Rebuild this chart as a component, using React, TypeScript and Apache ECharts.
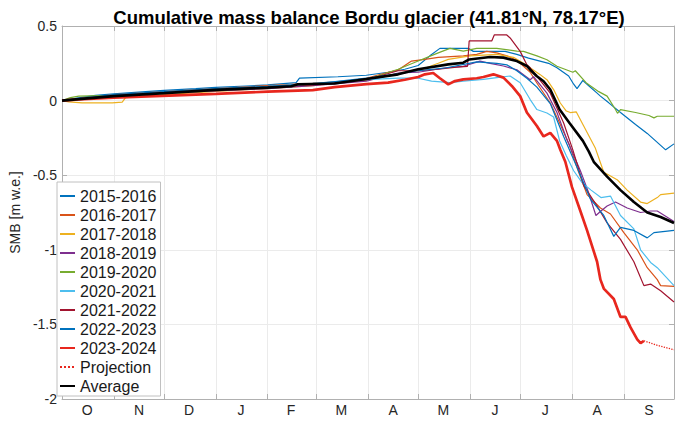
import React, { useEffect, useRef } from "react";
import * as echarts from "echarts";

// ---------- data ----------
const titleText = "Cumulative mass balance Bordu glacier (41.81°N, 78.17°E)";
const yAxisName = "SMB [m w.e.]";
const monthLetters = ["O", "N", "D", "J", "F", "M", "A", "M", "J", "J", "A", "S"];
const monthDays = [31, 30, 31, 31, 29, 31, 30, 31, 30, 31, 31, 30];
const yMin = -2;
const yMax = 0.5;
const yStep = 0.5;

const seasonNames = [
  "2015-2016",
  "2016-2017",
  "2017-2018",
  "2018-2019",
  "2019-2020",
  "2020-2021",
  "2021-2022",
  "2022-2023",
  "2023-2024",
];
const seasonColors = [
  "#0072BD",
  "#D95319",
  "#EDB120",
  "#7E2F8E",
  "#77AC30",
  "#4DBEEE",
  "#A2142F",
  "#0072BD",
  "#E8271E",
];

// [day of hydrological year, cumulative SMB (m w.e.)]
const s2015_16 = [[0,0],[8,0.015],[20,0.035],[31,0.045],[50,0.06],[61,0.068],[80,0.08],[92,0.088],[110,0.098],[123,0.105],[140,0.12],[142,0.15],[165,0.16],[182,0.17],[195,0.19],[205,0.21],[213,0.235],[220,0.3],[226,0.35],[236,0.35],[243,0.35],[246,0.33],[256,0.33],[265,0.33],[272,0.31],[279,0.285],[291,0.25],[296,0.22],[303,0.165],[306,0.11],[308,0.08],[311.5,0.135],[315,0.1],[319.5,0.055],[322,0.03],[327,-0.015],[334,-0.08],[343,-0.16],[350,-0.22],[355,-0.27],[361,-0.33],[366,-0.29]];
const s2016_17 = [[0,0],[10,0.012],[31,0.04],[61,0.06],[92,0.08],[123,0.1],[150,0.115],[170,0.13],[182,0.15],[195,0.19],[201,0.205],[209,0.265],[217,0.276],[225,0.29],[240,0.3],[248,0.31],[254,0.33],[260,0.32],[266,0.3],[272,0.27],[280,0.19],[284,0.118],[292,-0.016],[298,-0.16],[303.5,-0.3],[309,-0.48],[314,-0.63],[322,-0.72],[328,-0.76],[336,-0.885],[344,-1.0],[350,-1.12],[356,-1.2],[358,-1.24],[366,-1.245]];
const s2017_18 = [[0,0],[4,-0.008],[12,-0.015],[30,-0.015],[36,-0.01],[38,0.02],[61,0.04],[92,0.062],[123,0.08],[150,0.1],[182,0.135],[201,0.18],[213,0.2],[225,0.25],[231,0.276],[244,0.3],[260,0.31],[270,0.29],[276,0.25],[286,0.174],[290,0.14],[294,0.074],[298,-0.016],[301.6,-0.07],[304,-0.08],[307.5,-0.075],[312,-0.17],[319,-0.32],[324,-0.48],[332,-0.53],[338,-0.6],[346,-0.68],[350,-0.69],[356,-0.65],[358,-0.63],[366,-0.62]];
const s2018_19 = [[0,0],[10,0.01],[31,0.03],[61,0.05],[92,0.065],[123,0.08],[150,0.1],[182,0.13],[201,0.185],[213,0.19],[230,0.22],[240,0.23],[250,0.265],[256,0.25],[264,0.232],[272,0.207],[280,0.14],[282,0.16],[290,0.05],[296,-0.08],[301.6,-0.25],[305,-0.34],[310,-0.47],[314.4,-0.6],[319.3,-0.77],[322.3,-0.74],[326,-0.707],[331,-0.68],[338,-0.72],[346,-0.75],[352,-0.74],[356,-0.74],[366,-0.81]];
const s2019_20 = [[0,0],[5,0.02],[10,0.03],[31,0.035],[61,0.05],[92,0.07],[123,0.09],[150,0.11],[182,0.14],[201,0.21],[213,0.265],[225,0.32],[232,0.35],[240,0.332],[248,0.35],[260,0.35],[272,0.332],[276,0.33],[284,0.3],[290,0.274],[296,0.23],[305.5,0.19],[307,0.2],[313.4,0.12],[321,0.06],[326,0.03],[331,-0.06],[332.2,-0.085],[334,-0.06],[343,-0.08],[351,-0.1],[354,-0.116],[356,-0.105],[366,-0.105]];
const s2020_21 = [[0,0],[10,0.01],[31,0.035],[61,0.055],[92,0.075],[123,0.095],[150,0.115],[182,0.14],[201,0.15],[213,0.15],[221,0.13],[232,0.12],[240,0.13],[252,0.142],[260,0.154],[268,0.165],[274,0.12],[280,0.007],[284,-0.06],[290,-0.083],[294,-0.11],[297.6,-0.27],[301.6,-0.37],[306,-0.47],[311,-0.55],[316.4,-0.6],[322.3,-0.65],[328,-0.64],[334,-0.77],[342,-0.86],[346,-1.0],[352,-1.085],[356,-1.12],[366,-1.24]];
const s2021_22 = [[0,0],[10,0.01],[31,0.035],[61,0.055],[92,0.07],[123,0.09],[150,0.105],[182,0.14],[201,0.2],[213,0.2],[225,0.21],[236,0.225],[242.5,0.23],[243.5,0.4],[257,0.4],[258.5,0.44],[266,0.44],[268,0.42],[274,0.33],[278,0.24],[280,0.22],[292,0.05],[300,-0.15],[305.5,-0.33],[312,-0.57],[320,-0.707],[326,-0.82],[334,-0.93],[342,-1.08],[345,-1.16],[348,-1.24],[352,-1.23],[358,-1.275],[366,-1.35]];
const s2022_23 = [[0,0],[10,0.012],[31,0.04],[61,0.06],[92,0.08],[123,0.095],[150,0.11],[182,0.15],[201,0.18],[213,0.2],[230,0.22],[248,0.26],[260,0.25],[266,0.24],[272,0.2],[278,0.15],[284,0.09],[292,-0.02],[300,-0.24],[305,-0.37],[308.5,-0.46],[316,-0.66],[324,-0.77],[330,-0.91],[334,-0.85],[342,-0.87],[350,-0.92],[354,-0.885],[366,-0.87]];
const s2023_24 = [[0,0],[10,0.008],[31,0.02],[68,0.035],[92,0.045],[123,0.06],[150,0.07],[163,0.09],[182,0.11],[195,0.12],[205,0.14],[213,0.158],[217,0.176],[222,0.185],[226,0.15],[231,0.109],[235,0.131],[240,0.142],[248,0.15],[252,0.158],[258,0.176],[264,0.154],[269,0.098],[274,0.03],[278,-0.08],[284,-0.17],[288,-0.24],[292,-0.216],[296,-0.27],[298,-0.33],[301,-0.41],[305,-0.58],[310,-0.74],[314,-0.87],[320,-1.08],[322,-1.2],[324,-1.26],[330,-1.33],[334,-1.45],[337,-1.45],[340,-1.52],[344,-1.6],[346,-1.625],[348,-1.61]];
const projection = [[348,-1.61],[356,-1.64],[366,-1.67]];
const average = [[0,0],[15,0.015],[31,0.03],[61,0.05],[92,0.072],[123,0.087],[137,0.096],[141,0.11],[163,0.115],[182,0.145],[201,0.176],[213,0.21],[231,0.243],[240,0.254],[243.5,0.276],[256,0.292],[264,0.288],[272,0.265],[278,0.232],[280,0.207],[284,0.163],[288,0.13],[292,0.074],[297.6,-0.06],[303.5,-0.15],[311.5,-0.27],[315,-0.34],[318,-0.41],[326,-0.51],[334,-0.6],[342,-0.68],[350,-0.75],[358,-0.78],[366,-0.82]];

const seasonData = [s2015_16, s2016_17, s2017_18, s2018_19, s2019_20, s2020_21, s2021_22, s2022_23, s2023_24];

// ---------- derived axis helpers ----------
const monthStarts: number[] = [0];
monthDays.forEach((d, i) => monthStarts.push(monthStarts[i] + d));
const totalDays = monthStarts[monthStarts.length - 1];
const startSet = new Set(monthStarts);
const midLabel: Record<string, string> = {};
monthLetters.forEach((l, i) => {
  midLabel[String(Math.floor((monthStarts[i] + monthStarts[i + 1]) / 2))] = l;
});
const dayCats = Array.from({ length: totalDays + 1 }, (_, i) => String(i));

const FONT = "'Liberation Sans', Arial, Helvetica, sans-serif";
const AXIS_COLOR = "#b0b0b0";
const GRID_COLOR = "#ebebeb";

export default function App() {
  const ref = useRef<HTMLDivElement>(null);

  useEffect(() => {
    document.body.style.margin = "0";
    if (!ref.current) return;
    const chart = echarts.init(ref.current, undefined, { renderer: "svg" });

    const seriesList: any[] = seasonNames.map((name, i) => ({
      name,
      type: "line",
      xAxisIndex: 2,
      yAxisIndex: 0,
      data: seasonData[i],
      symbol: "none",
      lineStyle: { color: seasonColors[i], width: i === 8 ? 2.7 : 1.2 },
      itemStyle: { color: seasonColors[i] },
      z: 2 + i,
    }));
    seriesList.push({
      name: "Projection",
      type: "line",
      xAxisIndex: 2,
      yAxisIndex: 0,
      data: projection,
      symbol: "none",
      lineStyle: { color: "#E8271E", width: 1.3, type: "dotted" },
      itemStyle: { color: "#E8271E" },
      z: 12,
    });
    seriesList.push({
      name: "Average",
      type: "line",
      xAxisIndex: 2,
      yAxisIndex: 0,
      data: average,
      symbol: "none",
      lineStyle: { color: "#000000", width: 2.6 },
      itemStyle: { color: "#000000" },
      z: 13,
    });

    const catAxisBase = {
      type: "category",
      data: dayCats,
      boundaryGap: false,
      gridIndex: 0,
      axisLine: { show: true, onZero: false, lineStyle: { color: AXIS_COLOR, width: 1 } },
      axisTick: {
        show: true,
        inside: true,
        length: 5,
        interval: (i: number) => startSet.has(i),
        lineStyle: { color: AXIS_COLOR },
      },
    };

    chart.setOption({
      animation: false,
      backgroundColor: "#ffffff",
      title: {
        text: titleText,
        left: 364,
        top: 3,
        textAlign: "center",
        textStyle: { fontSize: 18.5, fontWeight: "bold", color: "#000", fontFamily: FONT },
      },
      grid: { left: 55, right: 6, top: 26, bottom: 22, containLabel: false },
      xAxis: [
        {
          ...catAxisBase,
          position: "bottom",
          axisLabel: {
            show: true,
            interval: (i: number) => midLabel[String(i)] !== undefined,
            formatter: (v: string) => midLabel[v] || "",
            color: "#262626",
            fontSize: 14,
            fontFamily: FONT,
            margin: 4,
          },
          splitLine: {
            show: true,
            interval: (i: number) => startSet.has(i) && i > 0 && i < totalDays,
            lineStyle: { color: GRID_COLOR, width: 1 },
          },
        },
        {
          ...catAxisBase,
          position: "top",
          axisLabel: { show: false },
          splitLine: { show: false },
        },
        {
          type: "value",
          gridIndex: 0,
          min: 0,
          max: totalDays,
          show: false,
        },
      ],
      yAxis: [
        {
          type: "value",
          position: "left",
          min: yMin,
          max: yMax,
          interval: yStep,
          name: yAxisName,
          nameLocation: "middle",
          nameRotate: 90,
          nameGap: 29,
          nameTextStyle: { fontSize: 14, color: "#262626", fontFamily: FONT },
          axisLine: { show: true, onZero: false, lineStyle: { color: AXIS_COLOR } },
          axisTick: { show: true, inside: true, length: 5, lineStyle: { color: AXIS_COLOR } },
          axisLabel: { color: "#262626", fontSize: 14, fontFamily: FONT, margin: 5 },
          splitLine: { show: true, lineStyle: { color: GRID_COLOR, width: 1 } },
        },
        {
          type: "value",
          position: "right",
          min: yMin,
          max: yMax,
          interval: yStep,
          axisLine: { show: true, onZero: false, lineStyle: { color: AXIS_COLOR } },
          axisTick: { show: true, inside: true, length: 5, lineStyle: { color: AXIS_COLOR } },
          axisLabel: { show: false },
          splitLine: { show: false },
        },
      ],
      legend: {
        orient: "vertical",
        left: 57,
        top: 182,
        itemWidth: 15,
        itemHeight: 12,
        itemGap: 3,
        padding: [6, 4, 2, 2],
        backgroundColor: "#ffffff",
        borderColor: "#c0c0c0",
        borderWidth: 1,
        borderRadius: 0,
        itemStyle: { opacity: 0, borderWidth: 0 },
        textStyle: { fontSize: 16, color: "#1a1a1a", fontFamily: FONT },
        data: [...seasonNames, "Projection", "Average"],
      },
      series: seriesList,
    });

    return () => chart.dispose();
  }, []);

  return <div ref={ref} style={{ width: 680, height: 421 }} />;
}
